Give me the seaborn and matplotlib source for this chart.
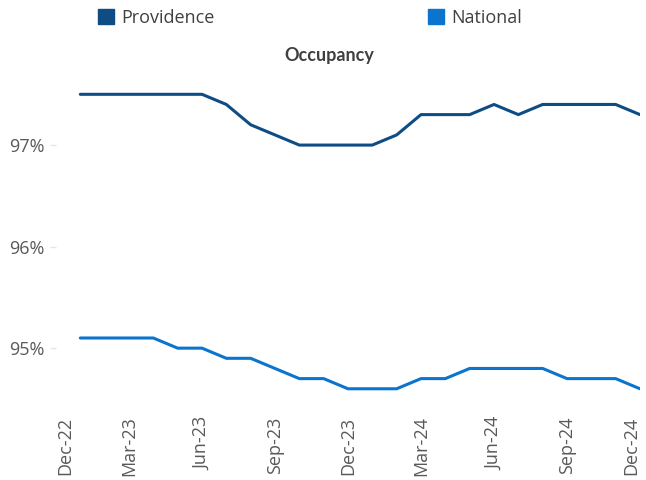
import pandas as pd
import numpy as np
import matplotlib.pyplot as plt
import seaborn as sns
from matplotlib.patches import Patch

# Axis months (Dec-22 .. Dec-24), data starts Jan-23
months = ['Dec-22', 'Jan-23', 'Feb-23', 'Mar-23', 'Apr-23', 'May-23', 'Jun-23',
          'Jul-23', 'Aug-23', 'Sep-23', 'Oct-23', 'Nov-23', 'Dec-23',
          'Jan-24', 'Feb-24', 'Mar-24', 'Apr-24', 'May-24', 'Jun-24',
          'Jul-24', 'Aug-24', 'Sep-24', 'Oct-24', 'Nov-24', 'Dec-24']

providence = [97.5, 97.5, 97.5, 97.5, 97.5, 97.5, 97.4, 97.2, 97.1, 97.0, 97.0, 97.0,
              97.0, 97.1, 97.3, 97.3, 97.3, 97.4, 97.3, 97.4, 97.4, 97.4, 97.4, 97.3]
national = [95.1, 95.1, 95.1, 95.1, 95.0, 95.0, 94.9, 94.9, 94.8, 94.7, 94.7, 94.6,
            94.6, 94.6, 94.7, 94.7, 94.8, 94.8, 94.8, 94.8, 94.7, 94.7, 94.7, 94.6]

colors = {'Providence': '#0E4C84', 'National': '#0A74CF'}

df = pd.DataFrame({'month': range(1, len(months)),
                   'Providence': providence,
                   'National': national})
long = df.melt(id_vars='month', var_name='market', value_name='occupancy')

sns.set_theme(style='white')
plt.rcParams['font.family'] = ['Open Sans', 'DejaVu Sans']

fig = plt.figure(figsize=(6.46, 4.8), dpi=100)
ax = fig.add_axes([56 / 646, 1 - 404 / 480, (640 - 56) / 646, (404 - 74) / 480])

sns.lineplot(data=long, x='month', y='occupancy', hue='market',
             palette=colors, linewidth=2.2, legend=False, ax=ax)

ax.set_xlim(0, len(months) - 1)
ax.set_ylim(94.45, 97.7)

ax.set_yticks([95, 96, 97])
ax.set_yticklabels(['95%', '96%', '97%'])
ax.set_xticks(range(0, len(months), 3))
ax.set_xticklabels(months[::3], rotation=90)
ax.set_xticks(range(len(months)), minor=True)

# keep the edge labels inside the figure
xlabels = ax.get_xticklabels()
xlabels[0].set_horizontalalignment('left')
xlabels[-1].set_horizontalalignment('right')

ax.tick_params(axis='x', which='both', colors='#d9d9d9', length=3, width=1,
               labelcolor='#595959', labelsize=13, pad=6)
ax.tick_params(axis='y', colors='#e6e6e6', length=4, width=1,
               labelcolor='#595959', labelsize=13, pad=4.5, left=True)
ax.set_xlabel('')
ax.set_ylabel('')
sns.despine(ax=ax, left=True, bottom=True)

fig.text(329 / 646, 1 - 56 / 480, 'Occupancy', ha='center', va='center',
         fontsize=13, fontweight='bold', color='#404040', family=['Lato', 'DejaVu Sans'])

handles = [Patch(color=colors[k], label=k) for k in ['Providence', 'National']]
fig.legend(handles=handles, loc='upper left', bbox_to_anchor=(98 / 646, 1 - 9 / 480),
           ncol=2, frameon=False, fontsize=13, handlelength=0.9, handleheight=0.9,
           handletextpad=0.4, columnspacing=11.8, borderpad=0, borderaxespad=0,
           labelcolor='#404040')

fig.savefig('out.png', dpi=100)
